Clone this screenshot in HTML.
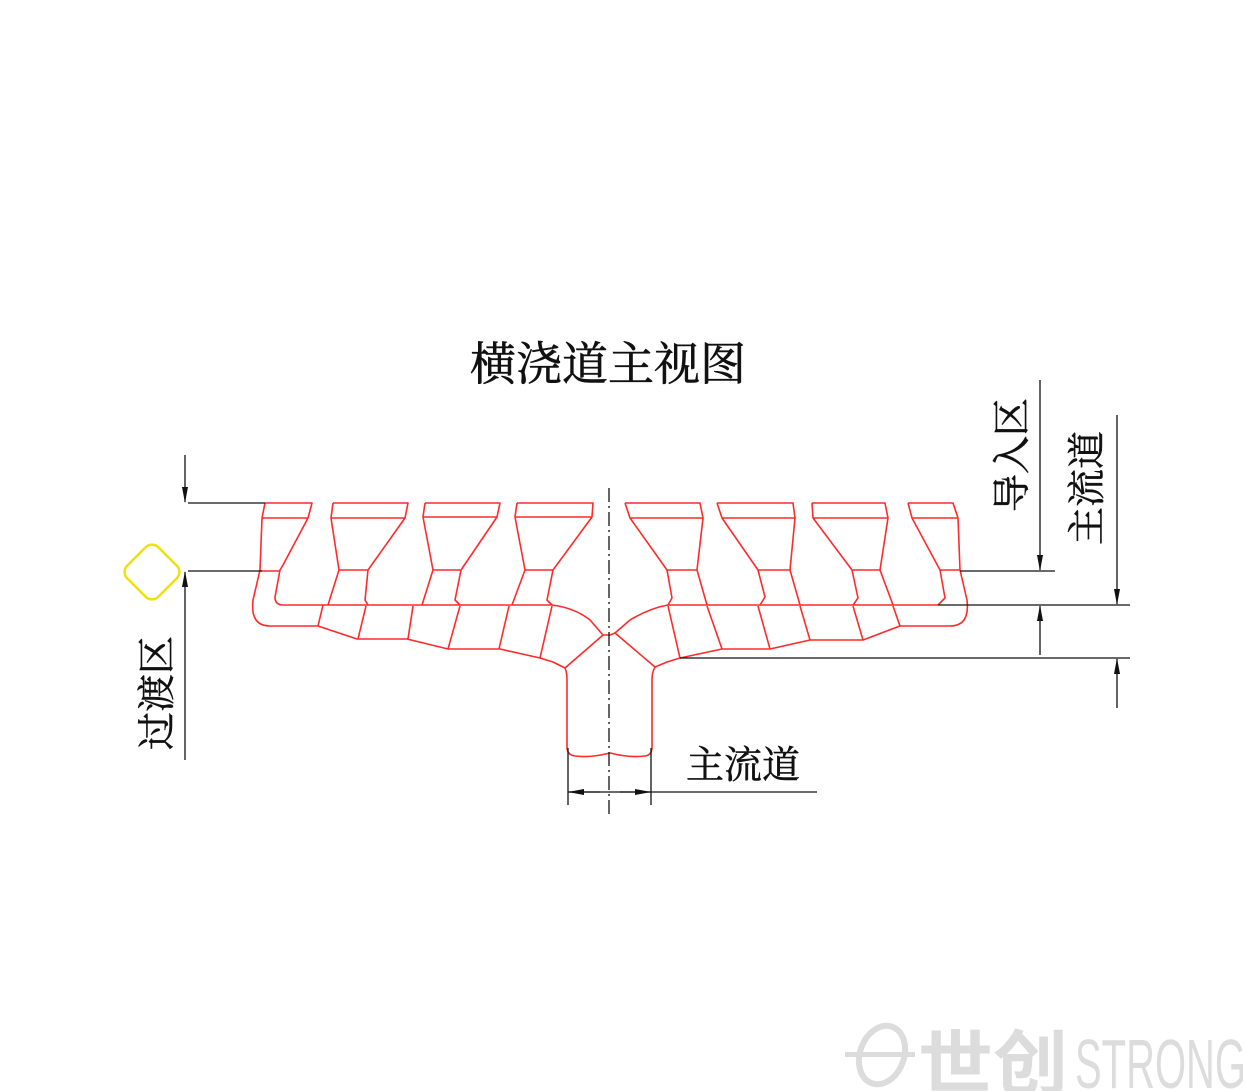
<!DOCTYPE html>
<html><head><meta charset="utf-8"><style>
html,body{margin:0;padding:0;background:#fff;}
svg{display:block;}
text{font-family:"Liberation Serif","Noto Serif CJK SC","Noto Sans CJK SC",serif;fill:#111;}
</style></head><body>
<svg width="1246" height="1091" viewBox="0 0 1246 1091" xmlns="http://www.w3.org/2000/svg">
<defs>
<marker id="a" markerWidth="16" markerHeight="8" refX="15" refY="4" orient="auto" markerUnits="userSpaceOnUse"><path d="M0,1 L16,4 L0,7 Z" fill="#111"/></marker>
</defs>
<text x="608" y="380" font-size="46" text-anchor="middle" style="stroke:#111;stroke-width:0.6">横浇道主视图</text>

<g stroke="#ff2a2a" stroke-width="1.6" fill="none" stroke-linejoin="round">
<path d="M265,503 L312,503 L308,518 L283,565 L280,570 L275,597 Q275,605 283,605"/>
<path d="M265,503 L262,518 L260,570 L253,600 Q250,626 270,626 L318,626"/>
<path d="M262,518 L308,518 M260,571 L280,571"/>
<path d="M333,503 L408,503 L405,518 L368,570 L365,600 L368,605 M333,503 L331,518 L339,570 L328,605 M331,518 L405,518 M339,570 L368,570"/>
<path d="M425,503 L500,503 L497,517 L461,570 L455,600 L460,605 M425,503 L423,517 L433,570 L422,605 M423,517 L497,517 M433,570 L461,570"/>
<path d="M517,503 L593,503 L592,517 L553,570 L547,600 L552,605 M517,503 L515,517 L525,570 L512,605 M515,517 L592,517 M525,570 L553,570"/>
<path d="M283,605 L552,605 Q575,608 590,620 L603,635"/>
<path d="M318,626 L357,639 L407,639 L448,649 L500,649 L540,658 L553,662 L565,668"/>
<path d="M323,605 L318,626 M366,606 L358,639 M413,606 L408,639 M460,606 L448,649 M509,606 L499,649 M552,606 L540,658"/>
<path d="M565,668 L603,635 L610,635 L615,633 L655,667"/>
<path d="M625,503 L700,503 L703,518 L697,570 L707,605 M625,503 L630,518 L667,570 L672,598 L668,605 M630,518 L703,518 M667,570 L697,570"/>
<path d="M717,503 L793,503 L795,518 L790,570 L800,605 M717,503 L722,518 L758,570 L765,597 L760,605 M722,518 L795,518 M758,570 L790,570"/>
<path d="M812,503 L885,503 L888,518 L880,570 L893,605 M812,503 L813,518 L852,570 L858,598 L853,605 M813,518 L888,518 M852,570 L880,570"/>
<path d="M908,503 L953,503 L958,518 L960,570 L967,600 Q970,626 950,626 L900,626 M908,503 L912,518 L940,570 L945,598 L938,605 M912,518 L958,518 M940,570 L960,570"/>
<path d="M938,605 L668,605 Q650,608 630,620 L615,633"/>
<path d="M900,626 L863,640 L810,640 L770,649 L722,649 L680,658 L667,662 L655,667"/>
<path d="M668,606 L680,658 M707,606 L722,649 M758,606 L770,649 M800,606 L810,640 M853,606 L863,640 M893,606 L900,626"/>
<path d="M565,668 Q567,672 567,680 L567,747 Q567,755 575,756 Q590,758 610,753 Q630,758 645,756 Q652,755 652,747 L652,680 Q652,672 655,667"/>
</g>

<g stroke="#111" stroke-width="1.3" fill="none">
<line x1="609" y1="488" x2="609" y2="815" stroke-dasharray="14,4,2,4"/>
<line x1="188" y1="503" x2="265" y2="503"/>
<line x1="188" y1="571" x2="262" y2="571"/>
<line x1="185" y1="455" x2="185" y2="502" marker-end="url(#a)"/>
<line x1="185" y1="760" x2="185" y2="572" marker-end="url(#a)"/>
<line x1="960" y1="571" x2="1055" y2="571"/>
<line x1="1040" y1="380" x2="1040" y2="570" marker-end="url(#a)"/>
<line x1="938" y1="605" x2="1130" y2="605"/>
<line x1="1117" y1="415" x2="1117" y2="604" marker-end="url(#a)"/>
<line x1="1040" y1="655" x2="1040" y2="606" marker-end="url(#a)"/>
<line x1="680" y1="658" x2="1130" y2="658"/>
<line x1="1117" y1="708" x2="1117" y2="659" marker-end="url(#a)"/>
<line x1="568" y1="748" x2="568" y2="805"/>
<line x1="651" y1="748" x2="651" y2="805"/>
<line x1="568" y1="792" x2="817" y2="792"/>
<line x1="600" y1="792" x2="569" y2="792" marker-end="url(#a)"/>
<line x1="620" y1="792" x2="650" y2="792" marker-end="url(#a)"/>
</g>

<rect x="130" y="550" width="44" height="44" rx="9" transform="rotate(45 152 572)" fill="none" stroke="#f0e010" stroke-width="2.5"/>

<g style="stroke:#111;stroke-width:0.5">
<text x="0" y="0" font-size="38" transform="translate(170,750) rotate(-90)">过渡区</text>
<text x="0" y="0" font-size="38" transform="translate(1025,512) rotate(-90)">导入区</text>
<text x="0" y="0" font-size="38" transform="translate(1100,545) rotate(-90)">主流道</text>
<text x="686" y="778" font-size="38">主流道</text>
</g>

<g fill="#dcdcdc">
<text x="918" y="1088" font-size="70" textLength="150" lengthAdjust="spacingAndGlyphs" style="fill:#dcdcdc;font-family:'Noto Sans CJK SC',sans-serif;font-weight:bold">世创</text>
<text x="1075" y="1088" font-size="70" textLength="171" lengthAdjust="spacingAndGlyphs" style="fill:#dcdcdc;font-family:'Liberation Sans',sans-serif">STRONG</text>
<ellipse cx="882" cy="1055" rx="22" ry="30" fill="none" stroke="#dcdcdc" stroke-width="6" transform="rotate(20 882 1055)"/>
<rect x="845" y="1052" width="70" height="5"/>
</g>
</svg>
</body></html>
